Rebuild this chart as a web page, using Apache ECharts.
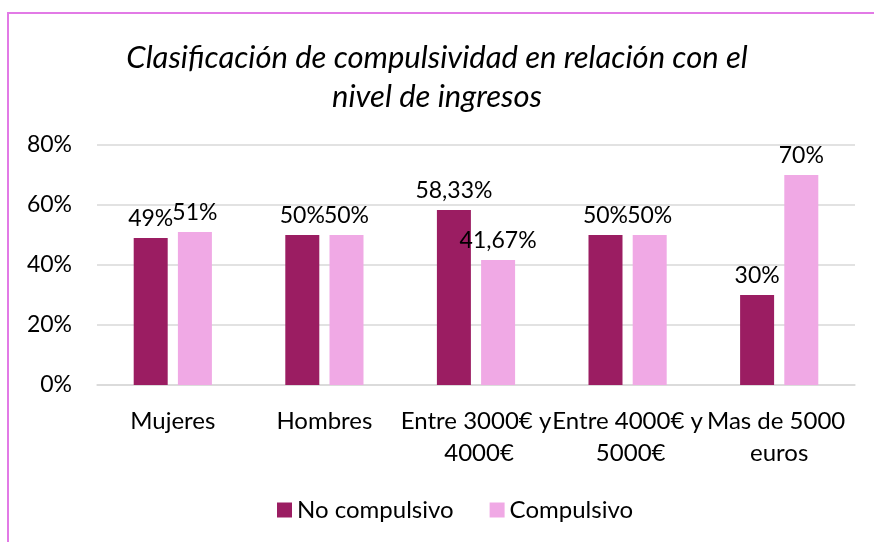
<!DOCTYPE html>
<html lang="es">
<head>
    <meta charset="UTF-8">
    <title>Compulsividad</title>
    <script src="https://cdn.jsdelivr.net/npm/echarts@6/dist/echarts.min.js"></script>
    <style>
        html, body { margin: 0; padding: 0; background: #fff; }
    </style>
</head>
<body>
    <div id="main" style="width: 874px;height:542px;"></div>
</body>
    <script type="text/javascript">
        // datos del grafico
        var categorias = ['Mujeres', 'Hombres', 'Entre 3000€ y 4000€', 'Entre 4000€ y 5000€', 'Mas de 5000 euros'];
        var noCompulsivo = [49, 50, 58.33, 50, 30];
        var compulsivo = [51, 50, 41.67, 50, 70];
        var nombresSeries = ['No compulsivo', 'Compulsivo'];
        var ticksY = [0, 20, 40, 60, 80];

        var fuente = 'Lato';

        function etiqueta(v) {
            return String(v).replace('.', ',') + '%';
        }

        var myChart = echarts.init(document.getElementById('main'));

        var option = {
            animation: false,
            textStyle: { fontFamily: fuente },
            title: {
                text: 'Clasificación de compulsividad en relación con el\nnivel de ingresos',
                left: 'center',
                top: 33,
                textStyle: {
                    fontFamily: fuente,
                    fontStyle: 'italic',
                    fontWeight: 'normal',
                    fontSize: 31,
                    lineHeight: 39,
                    color: '#000'
                }
            },
            legend: {
                bottom: 15,
                left: 272,
                itemWidth: 15,
                itemHeight: 15,
                itemGap: 36,
                icon: 'rect',
                textStyle: { fontFamily: fuente, fontSize: 24, color: '#000' },
                data: nombresSeries
            },
            grid: {
                left: 97,
                right: 19,
                top: 145,
                bottom: 157
            },
            xAxis: {
                type: 'category',
                data: categorias,
                axisLine: { lineStyle: { color: '#d9d9d9', width: 1.5 } },
                axisTick: { show: false },
                axisLabel: {
                    interval: 0,
                    margin: 20,
                    width: 162,
                    overflow: 'break',
                    fontFamily: fuente,
                    fontSize: 24,
                    lineHeight: 32,
                    color: '#000'
                }
            },
            yAxis: {
                type: 'value',
                min: ticksY[0],
                max: ticksY[ticksY.length - 1],
                interval: 20,
                axisLine: { show: false },
                axisTick: { show: false },
                splitLine: { lineStyle: { color: '#d9d9d9', width: 1.5 } },
                axisLabel: {
                    margin: 25,
                    fontFamily: fuente,
                    fontSize: 23,
                    color: '#000',
                    formatter: function (v) { return v + '%'; }
                }
            },
            series: [
                {
                    name: nombresSeries[0],
                    type: 'bar',
                    data: noCompulsivo,
                    barWidth: 34,
                    barGap: '30%',
                    itemStyle: { color: '#9b1d62' },
                    label: {
                        show: true,
                        position: 'top',
                        distance: 8,
                        fontFamily: fuente,
                        fontSize: 23,
                        color: '#000',
                        formatter: function (p) { return etiqueta(p.value); }
                    }
                },
                {
                    name: nombresSeries[1],
                    type: 'bar',
                    data: compulsivo,
                    barWidth: 34,
                    itemStyle: { color: '#f0a9e5' },
                    label: {
                        show: true,
                        position: 'top',
                        distance: 8,
                        fontFamily: fuente,
                        fontSize: 23,
                        color: '#000',
                        formatter: function (p) { return etiqueta(p.value); }
                    }
                }
            ],
            graphic: [
                {
                    type: 'polyline',
                    shape: { points: [[8, 542], [8, 13], [874, 13]] },
                    style: { stroke: '#e27ae6', lineWidth: 2, fill: null }
                }
            ]
        };

        myChart.setOption(option);
    </script>
</html>
